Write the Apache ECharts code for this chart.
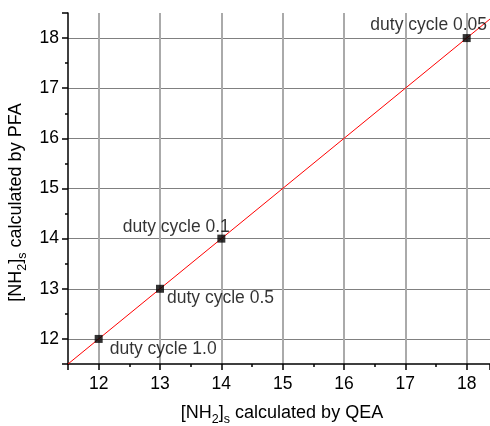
<!DOCTYPE html>
<html>
<head>
<meta charset="utf-8">
<script src="https://cdn.jsdelivr.net/npm/echarts@6/dist/echarts.min.js"></script>
<style>
  html, body { margin: 0; padding: 0; background: #fff; }
  #chart { width: 490px; height: 426px; }
</style>
</head>
<body>
<div id="chart"></div>
<script>
// Surface amine concentration: QEA (x) vs PFA (y) for several duty cycles
const dutyLabels = ['duty cycle 1.0', 'duty cycle 0.5', 'duty cycle 0.1', 'duty cycle 0.05'];
const qeaValues = [12, 13, 14, 18];
const pfaValues = [12, 13, 14, 18];
// y = x reference line
const lineX = [11.5, 18.4];
const lineY = [11.5, 18.4];

const FONT = '"Liberation Sans", Arial, sans-serif';
const FS = 17.5;

// label placement per point
const labelStyles = [
  { position: 'right', offset: [2, 10] },
  { position: 'right', offset: [-2, 9] },
  { position: 'top', offset: [-45, 7] },
  { position: 'top', offset: [-38, 5] }
];

const points = qeaValues.map((x, i) => ({
  value: [x, pfaValues[i]],
  name: dutyLabels[i],
  label: Object.assign({ show: true, formatter: '{b}' }, labelStyles[i])
}));

const richName = {
  n: { fontSize: 18, fontFamily: FONT, color: '#000', lineHeight: 26, verticalAlign: 'middle' },
  s: { fontSize: 12.5, fontFamily: FONT, color: '#000', lineHeight: 26, verticalAlign: 'bottom' }
};

const intLabel = v => (Math.abs(v - Math.round(v)) < 1e-6 ? String(Math.round(v)) : '');

const chart = echarts.init(document.getElementById('chart'), null, { renderer: 'canvas' });
chart.setOption({
  animation: false,
  backgroundColor: '#fff',
  grid: { left: 68, top: 13, right: 0, bottom: 62, containLabel: false, outerBoundsMode: 'none' },
  xAxis: {
    type: 'value',
    min: 11.5,
    max: 18.38,
    minInterval: 1,
    maxInterval: 1,
    name: '{n|[NH}{s|2}{n|]}{s|s}{n| calculated by QEA}',
    nameLocation: 'middle',
    nameGap: 36,
    nameTextStyle: { rich: richName, padding: [0, 0, 0, 6] },
    axisLine: { show: true, onZero: false, lineStyle: { color: '#000', width: 1.5 } },
    axisTick: { show: true, inside: false, length: 6, lineStyle: { color: '#000', width: 1.5 } },
    minorTick: { show: true, splitNumber: 2, length: 3, lineStyle: { color: '#000', width: 1.5 } },
    axisLabel: { color: '#000', fontSize: FS, fontFamily: FONT, margin: 11, formatter: intLabel, showMinLabel: false, showMaxLabel: false },
    splitLine: { show: true, showMinLine: false, showMaxLine: false, lineStyle: { color: '#aaaaaa', width: 2 } }
  },
  yAxis: {
    type: 'value',
    min: 11.5,
    max: 18.5,
    minInterval: 1,
    maxInterval: 1,
    name: '{n|[NH}{s|2}{n|]}{s|s}{n| calculated by PFA}',
    nameLocation: 'middle',
    nameRotate: 90,
    nameGap: 36,
    nameTextStyle: { rich: richName, padding: [0, 28, 0, 0] },
    axisLine: { show: true, onZero: false, lineStyle: { color: '#000', width: 1.5 } },
    axisTick: { show: true, inside: false, length: 6, lineStyle: { color: '#000', width: 1.5 } },
    minorTick: { show: true, splitNumber: 2, length: 3, lineStyle: { color: '#000', width: 1.5 } },
    axisLabel: { color: '#000', fontSize: FS, fontFamily: FONT, margin: 9, formatter: intLabel, showMinLabel: false, showMaxLabel: false },
    splitLine: { show: true, showMinLine: false, showMaxLine: false, lineStyle: { color: '#808080', width: 1 } }
  },
  series: [
    {
      type: 'line',
      data: lineX.map((x, i) => [x, lineY[i]]),
      showSymbol: false,
      symbol: 'none',
      lineStyle: { color: '#ff0000', width: 1 },
      z: 3,
      silent: true
    },
    {
      type: 'scatter',
      data: points,
      symbol: 'rect',
      symbolSize: 8,
      itemStyle: { color: '#000' },
      label: { color: '#000', fontSize: FS, fontFamily: FONT, distance: 5 },
      z: 4
    }
  ]
});
</script>
</body>
</html>
